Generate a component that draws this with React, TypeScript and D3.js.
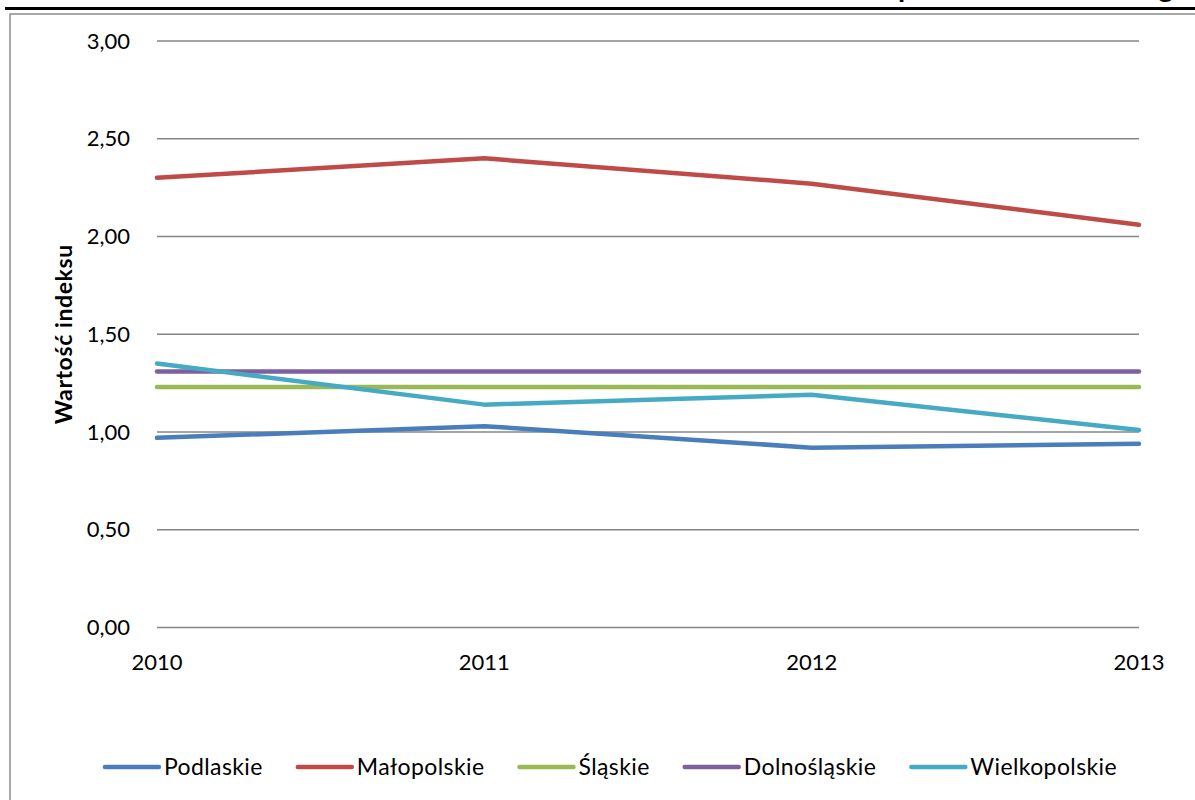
import React, { useEffect, useRef } from "react";
import * as d3 from "d3";

const years = ["2010", "2011", "2012", "2013"];
const podlaskie = [0.97, 1.03, 0.92, 0.94];
const malopolskie = [2.3, 2.4, 2.27, 2.06];
const slaskie = [1.23, 1.23, 1.23, 1.23];
const dolnoslaskie = [1.31, 1.31, 1.31, 1.31];
const wielkopolskie = [1.35, 1.14, 1.19, 1.01];
const yTicks = [0, 0.5, 1, 1.5, 2, 2.5, 3];
const seriesNames = ["Podlaskie", "Małopolskie", "Śląskie", "Dolnośląskie", "Wielkopolskie"];
const seriesValues = [podlaskie, malopolskie, slaskie, dolnoslaskie, wielkopolskie];
const seriesColors = ["#4a7ebb", "#be4b48", "#98b954", "#7d60a0", "#46aac5"];
const axisTitle = "Wartość indeksu";
const titleA = "Wartość indeksu w latach 2010–2013 – liczba ";
const titleB = "pracowników według";

const W = 1195;
const H = 800;
const FONT = "Lato, 'Open Sans', sans-serif";

export default function App() {
  const ref = useRef<SVGSVGElement | null>(null);

  useEffect(() => {
    const svg = d3.select(ref.current);
    svg.selectAll("*").remove();

    const x = d3.scalePoint<string>().domain(years).range([157, 1139]);
    const y = d3.scaleLinear().domain([0, 3]).range([627.5, 41]);

    // clipped title (only descenders visible, as in the reference)
    svg.append("text").attr("x", 898).attr("y", -3).attr("text-anchor", "end")
      .attr("font-family", FONT).attr("font-weight", 700).attr("font-size", 29).text(titleA);
    svg.append("text").attr("x", 898).attr("y", -3)
      .attr("font-family", FONT).attr("font-weight", 700).attr("font-size", 29).text(titleB);

    // top black rule
    svg.append("line").attr("x1", 5).attr("x2", W).attr("y1", 8.5).attr("y2", 8.5)
      .attr("stroke", "#000").attr("stroke-width", 3);

    // chart border
    svg.append("rect").attr("x", 10).attr("y", 14).attr("width", W + 20).attr("height", H)
      .attr("fill", "#fff").attr("stroke", "#8c8c8c").attr("stroke-width", 1.5);

    // gridlines
    svg.append("g").selectAll("line").data(yTicks).join("line")
      .attr("x1", 157).attr("x2", 1139)
      .attr("y1", (d) => y(d)).attr("y2", (d) => y(d))
      .attr("stroke", "#868686").attr("stroke-width", 1.6);

    // y tick labels
    svg.append("g").selectAll("text").data(yTicks).join("text")
      .attr("x", 130).attr("y", (d) => y(d)).attr("dy", "0.35em")
      .attr("text-anchor", "end").attr("font-family", FONT).attr("font-size", 22)
      .attr("fill", "#000")
      .text((d) => d.toFixed(2).replace(".", ","));

    // x tick labels
    svg.append("g").selectAll("text").data(years).join("text")
      .attr("x", (d) => x(d) as number).attr("y", 670)
      .attr("text-anchor", "middle").attr("font-family", FONT).attr("font-size", 22)
      .attr("fill", "#000").text((d) => d);

    // y axis title
    svg.append("text")
      .attr("transform", `translate(72, ${y(1.5)}) rotate(-90)`)
      .attr("text-anchor", "middle").attr("font-family", FONT).attr("font-size", 23)
      .attr("letter-spacing", 0.6)
      .attr("font-weight", 700).attr("fill", "#000").text(axisTitle);

    // lines
    const line = d3.line<number>()
      .x((_, i) => x(years[i]) as number)
      .y((d) => y(d));
    svg.append("g").selectAll("path").data(seriesValues).join("path")
      .attr("d", (d) => line(d) as string)
      .attr("fill", "none")
      .attr("stroke", (_, i) => seriesColors[i])
      .attr("stroke-width", 4.5)
      .attr("stroke-linejoin", "round")
      .attr("stroke-linecap", "round");

    // legend
    const lg = svg.append("g");
    const items = seriesNames.map((name, i) => {
      const g = lg.append("g");
      g.append("line").attr("x1", 0).attr("x2", 54).attr("y1", 0).attr("y2", 0)
        .attr("stroke", seriesColors[i]).attr("stroke-width", 4.5).attr("stroke-linecap", "round");
      const t = g.append("text").attr("x", 59).attr("y", 0).attr("dy", "0.35em")
        .attr("font-family", FONT).attr("font-size", 23).attr("letter-spacing", 0.4)
        .attr("fill", "#000").text(name);
      const w = 59 + (t.node() as SVGTextElement).getComputedTextLength();
      return { g, w };
    });
    const gap = 35;
    const total = d3.sum(items, (d) => d.w) + gap * (items.length - 1);
    let cx = 611 - total / 2;
    items.forEach((it) => {
      it.g.attr("transform", `translate(${cx}, 767)`);
      cx += it.w + gap;
    });
  }, []);

  return (
    <svg
      ref={ref}
      width={W}
      height={H}
      style={{ position: "absolute", left: 0, top: 0, background: "#fff" }}
    />
  );
}
